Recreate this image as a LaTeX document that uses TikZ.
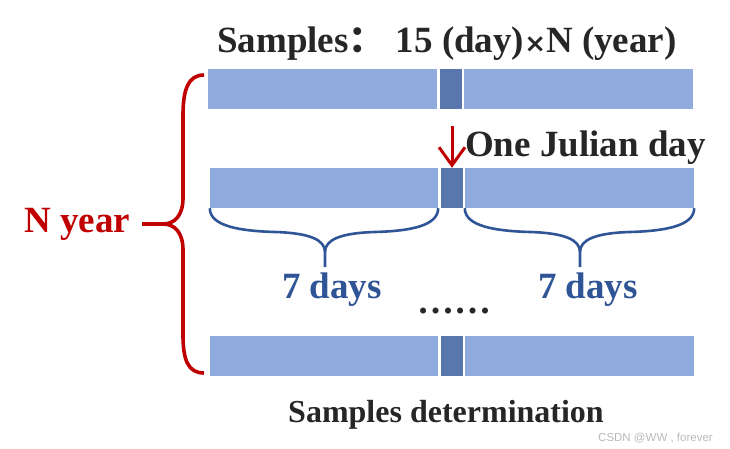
\documentclass[tikz,border=0pt]{standalone}
\usepackage{fontspec}
\setmainfont{Liberation Serif}
\newfontfamily\cjk{Noto Sans CJK SC}
\newfontfamily\symfont{DejaVu Sans}
\newfontfamily\markfont{Liberation Sans}
\usetikzlibrary{arrows.meta}

\definecolor{barlight}{HTML}{8FAADC}
\definecolor{bardark}{HTML}{5A77AD}
\definecolor{textdark}{HTML}{262626}
\definecolor{yearred}{HTML}{C00000}
\definecolor{dayblue}{HTML}{2F5597}

\begin{document}
\begin{tikzpicture}[
	x=1pt, y=-1pt,
	bar/.style={
		fill=barlight, inner sep=0pt,
		minimum height=40pt
	},
	barday/.style={
		fill=bardark, inner sep=0pt,
		minimum height=40pt,
		minimum width=22pt
	},
	label/.style={
		inner sep=0pt, anchor=base west,
		font=\bfseries\fontsize{37}{40}\selectfont
	},
	dayspan/.style={
		draw=dayblue, line width=2.6pt
	}
	]
	\useasboundingbox (0,0) rectangle (730,449);
	
	% title
	\node[label, text=textdark] (title) at (217,53)
		{Samples{\cjk\bfseries ：}\hspace{10pt}15 (day){\symfont\bfseries\fontsize{26}{28}\selectfont ×}N (year)};
	
	% year 1
	\node[bar, minimum width=229pt] (y1l) at (322.5,89) {};
	\node[barday]                   (y1d) at (450.5,89) {};
	\node[bar, minimum width=229pt] (y1r) at (578.5,89) {};
	
	% year 2
	\node[bar, minimum width=228pt] (y2l) at (324,188) {};
	\node[barday]                   (y2d) at (452,188) {};
	\node[bar, minimum width=229pt] (y2r) at (579.5,188) {};
	
	% year N
	\node[bar, minimum width=228pt] (y3l) at (324,356) {};
	\node[barday]                   (y3d) at (452,356) {};
	\node[bar, minimum width=229pt] (y3r) at (579.5,356) {};
	
	% julian day
	\coordinate (jtop) at (452,126);
	\draw[yearred, line width=3pt,
		-{Straight Barb[length=18pt,width=26pt,line width=3pt]}]
		(jtop) -- (y2d.north);
	\node[label, text=textdark] (julian) at (465,157) {One Julian day};
	
	% 7 days on each side
	\draw[dayspan] (y2l.south west) .. controls +(0,18) and (240,231) .. (275,232)
		.. controls (310,233) and (325,240) .. (325,252) -- (325,267);
	\draw[dayspan] (325,252) .. controls (325,240) and (340,233) .. (375,232)
		.. controls (410,231) and (438,226) .. (y2l.south east);
	\draw[dayspan] (y2r.south west) .. controls +(0,18) and (495,231) .. (530,232)
		.. controls (565,233) and (580,240) .. (580,252) -- (580,267);
	\draw[dayspan] (580,252) .. controls (580,240) and (595,233) .. (630,232)
		.. controls (665,231) and (694,226) .. (y2r.south east);
	\node[label, text=dayblue, anchor=base] (wleft)  at (332,298) {7 days};
	\node[label, text=dayblue, anchor=base] (wright) at (588,298) {7 days};
	
	\node[label, text=textdark, anchor=base] (dots) at (454,313) {……};
	
	% N years
	\draw[yearred, line width=3.6pt] (204,75) .. controls (188,75) and (183,90) .. (183,115)
		-- (183,198) .. controls (183,215) and (175,224) .. (163,224) -- (142,224);
	\draw[yearred, line width=3.6pt] (163,224) .. controls (175,224) and (183,233) .. (183,250)
		-- (183,335) .. controls (183,360) and (188,373) .. (204,373);
	\node[label, text=yearred] (nyear) at (24,232) {N year};
	
	\node[label, text=textdark, anchor=base,
		font=\bfseries\fontsize{32}{36}\selectfont] (caption) at (446,422)
		{Samples determination};
	
	\node[inner sep=0pt, anchor=base west, text=gray!55,
		font=\markfont\fontsize{11.5}{13}\selectfont] (mark) at (598,441)
		{CSDN @WW , forever};
	
\end{tikzpicture}
\end{document}
